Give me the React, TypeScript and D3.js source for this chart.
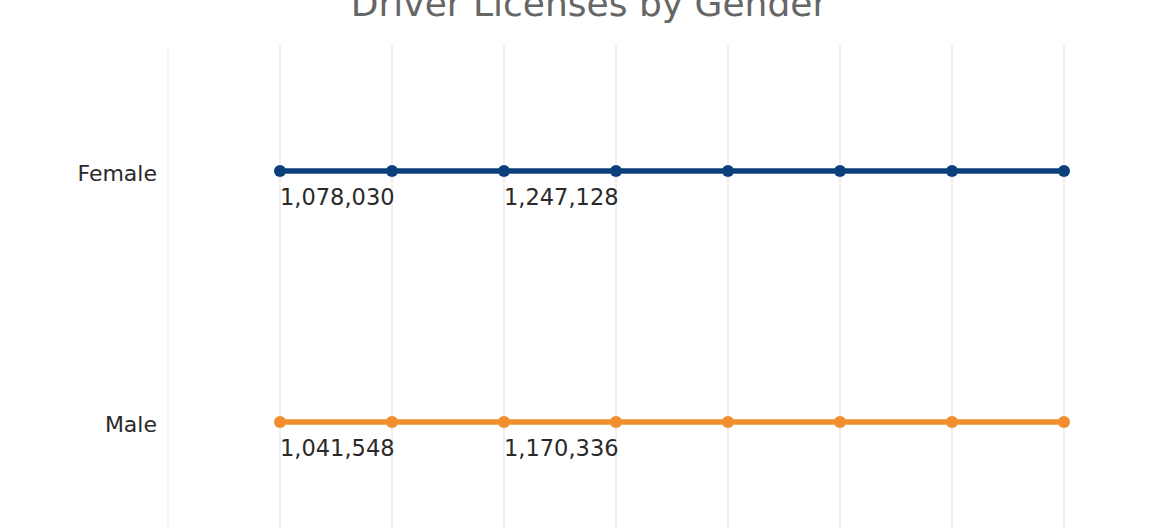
import { useEffect, useRef } from 'react'
import * as d3 from 'd3'

const TITLE = 'Driver Licenses by Gender'
const COLUMNS = [0, 1, 2, 3, 4, 5, 6, 7]
const GENDERS = ['Female', 'Male']
const COLORS = ['#0b3f7c', '#f28e2b']
const FEMALE = [1078030, null, 1247128, null, null, null, null, null]
const MALE = [1041548, null, 1170336, null, null, null, null, null]

const W = 1174
const H = 528
const FONT = '"DejaVu Sans", "Noto Sans", sans-serif'

export default function App() {
  const svgRef = useRef<SVGSVGElement>(null)

  useEffect(() => {
    if (!svgRef.current) return
    const svg = d3.select(svgRef.current)
    svg.selectAll('*').remove()

    const x = d3.scaleLinear().domain([-1, COLUMNS.length - 1]).range([168, 1064])
    const y = d3.scalePoint<string>().domain(GENDERS).range([171, 422])

    // Title (cut off at the top)
    svg.append('text')
      .attr('x', 589).attr('y', 16)
      .attr('text-anchor', 'middle')
      .attr('font-family', FONT)
      .attr('font-size', 36)
      .attr('fill', '#666')
      .text(TITLE)

    // Grid
    svg.append('g').selectAll('line').data([-1, ...COLUMNS]).join('line')
      .attr('x1', d => x(d)).attr('x2', d => x(d))
      .attr('y1', 45).attr('y2', H)
      .attr('stroke', d => (d < 0 ? '#f4f4f4' : '#ebebeb'))
      .attr('stroke-width', 1.5)

    // Row labels
    svg.append('g').selectAll('text').data(GENDERS).join('text')
      .attr('x', 157).attr('y', d => y(d)! + 10)
      .attr('text-anchor', 'end')
      .attr('font-family', FONT)
      .attr('font-size', 22)
      .attr('fill', '#2a2a2a')
      .text(d => d)

    const series = [FEMALE, MALE]
    GENDERS.forEach((g, gi) => {
      const yy = y(g)!
      const color = COLORS[gi]
      const line = d3.line<number>().x(d => x(d)).y(() => yy)
      svg.append('path')
        .attr('d', line(COLUMNS))
        .attr('fill', 'none')
        .attr('stroke', color)
        .attr('stroke-width', 5.5)

      svg.append('g').selectAll('circle').data(COLUMNS).join('circle')
        .attr('cx', d => x(d)).attr('cy', yy)
        .attr('r', 6)
        .attr('fill', color)

      const vals = series[gi]
      svg.append('g').selectAll('text')
        .data(COLUMNS.filter(c => vals[c] != null)).join('text')
        .attr('x', d => x(d)).attr('y', yy + 34)
        .attr('font-family', FONT)
        .attr('font-size', 22.5)
        .attr('fill', '#2a2a2a')
        .text(d => d3.format(',')(vals[d] as number))
    })
  }, [])

  return (
    <svg ref={svgRef} width={W} height={H}
      style={{ position: 'absolute', left: 0, top: 0, display: 'block', background: '#fff' }} />
  )
}
